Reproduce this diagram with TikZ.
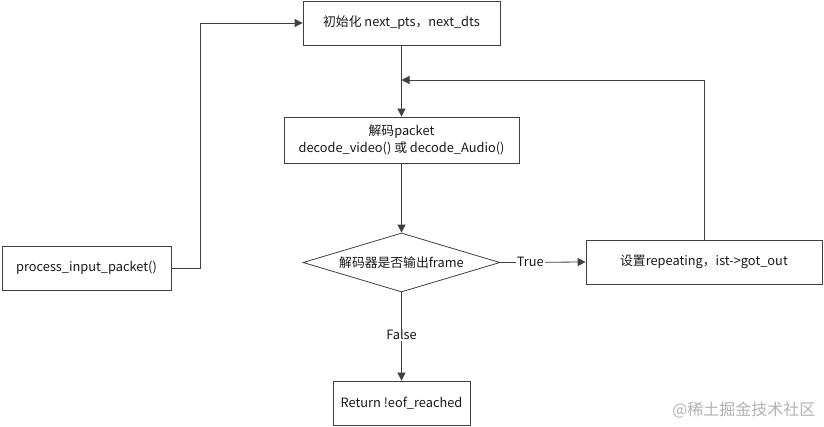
\documentclass[tikz,border=0pt]{standalone}
\usepackage{fontspec}
\setmainfont{Noto Sans CJK SC}
\usetikzlibrary{arrows.meta,shapes.geometric}
\begin{document}
\begin{tikzpicture}[x=1pt,y=-1pt,
  every node/.style={font=\fontsize{12.8}{17}\selectfont, text=black!90},
  box/.style={draw=black!75, line width=0.8pt, rectangle, inner sep=0pt, align=center},
  dia/.style={draw=black!75, line width=0.8pt, diamond, aspect=3.34, inner sep=0pt},
  conn/.style={draw=black!75, line width=0.8pt, -{Triangle[width=8pt,length=8pt]}},
  plain/.style={draw=black!75, line width=0.8pt},
  lbl/.style={fill=white, inner sep=1pt}]
\useasboundingbox (0,0) rectangle (824,426);
\fill[white] (0,0) rectangle (824,426);
\node[box, minimum width=197pt, minimum height=44pt] (init) at (401.5,23) {初始化 next\_pts，next\_dts};
\node[box, minimum width=235pt, minimum height=46pt] (dec) at (401.5,140) {解码packet\\decode\_video() 或 decode\_Audio()};
\node[dia, minimum width=197pt, minimum height=59pt] (q) at (401.5,262.5) {};
\node at (401.5,262.5) {解码器是否输出frame};
\node[box, minimum width=236pt, minimum height=44pt] (rep) at (704,262) {设置repeating，ist->got\_out};
\node[box, minimum width=169pt, minimum height=44pt] (proc) at (86.5,268) {process\_input\_packet()};
\node[box, minimum width=137pt, minimum height=44pt] (ret) at (401.5,403) {Return !eof\_reached};
\coordinate (j) at (401.5,80);
\coordinate (p1) at (200,268);
\coordinate (p2) at (200,23);
\coordinate (r1) at (704,80);
\draw[conn] (proc.east) -- (p1) -- (p2) -- (init.west);
\draw[plain] (init.south) -- (j);
\draw[conn] (j) -- (dec.north);
\draw[conn] (rep.north) -- (r1) -- (j);
\draw[conn] (dec.south) -- (q.north);
\draw[conn] (q.east) -- node[lbl, pos=0.35] {True} (rep.west);
\draw[conn] (q.south) -- node[lbl, pos=0.48] {False} (ret.north);
\node[text=black!30, font=\fontsize{16}{18}\selectfont, anchor=east] (wm) at (819,410) {@稀土掘金技术社区};
\end{tikzpicture}
\end{document}
